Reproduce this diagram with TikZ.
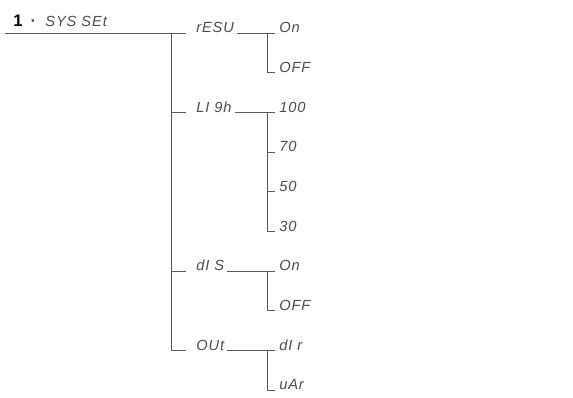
\documentclass[tikz,border=0pt]{standalone}
\usepackage{fontspec}
\setmainfont{Liberation Sans}
\newfontfamily\segfont[LetterSpace=6]{Liberation Sans}
\usetikzlibrary{positioning}

\tikzset{
  seg/.style={font=\segfont\itshape\fontsize{11}{13}\selectfont, text=black!70,
    inner sep=0pt, text depth=0pt, anchor=south west},
  conn/.style={draw=black!65, line width=0.6pt},
}

\begin{document}
\begin{tikzpicture}[x=0.75pt,y=-0.75pt]
\useasboundingbox (0,0) rectangle (573,397);
\node[anchor=base west,inner sep=0pt] (title) at (13,26)
  {{\bfseries\fontsize{12.5}{14}\selectfont 1\hspace{6pt}{\color{black!70}·}}\hspace{7pt}{\segfont\itshape\fontsize{11}{13}\selectfont\color{black!70}SYS SEt}};
\coordinate (root) at (5,33);
% menu items
\foreach \name/\txt/\row in {resu/rESU/0, ligh/LI 9h/2, dis/dI S/6, out/OUt/8}
  \node[seg] (\name) at (196,33+39.67*\row) {\txt};
% settings
\foreach \name/\txt/\row in {resuon/On/0, resuoff/OFF/1, ligha/100/2, lighb/70/3,
  lighc/50/4, lighd/30/5, dison/On/6, disoff/OFF/7, outdir/dI r/8, outvar/uAr/9}
  \node[seg] (\name) at (279,33+39.67*\row) {\txt};
% first level
\draw[conn] (root) -- ([xshift=-7.5pt]resu.south west);
\draw[conn] ([xshift=-18.75pt]resu.south west) |- ([xshift=-7.5pt]out.south west);
\foreach \n in {ligh,dis}
  \draw[conn] ([xshift=-18.75pt]\n.south west) -- ([xshift=-7.5pt]\n.south west);
% second level
\foreach \p/\a/\z in {resu/resuon/resuoff, ligh/ligha/lighd, dis/dison/disoff, out/outdir/outvar}
{
\draw[conn] ([xshift=2.25pt]\p.south east) -- ([xshift=-3pt]\a.south west);
\draw[conn] ([xshift=-9pt]\a.south west) |- ([xshift=-3pt]\z.south west);
}
\foreach \n in {lighb,lighc}
  \draw[conn] ([xshift=-9pt]\n.south west) -- ([xshift=-3pt]\n.south west);
\end{tikzpicture}
\end{document}
